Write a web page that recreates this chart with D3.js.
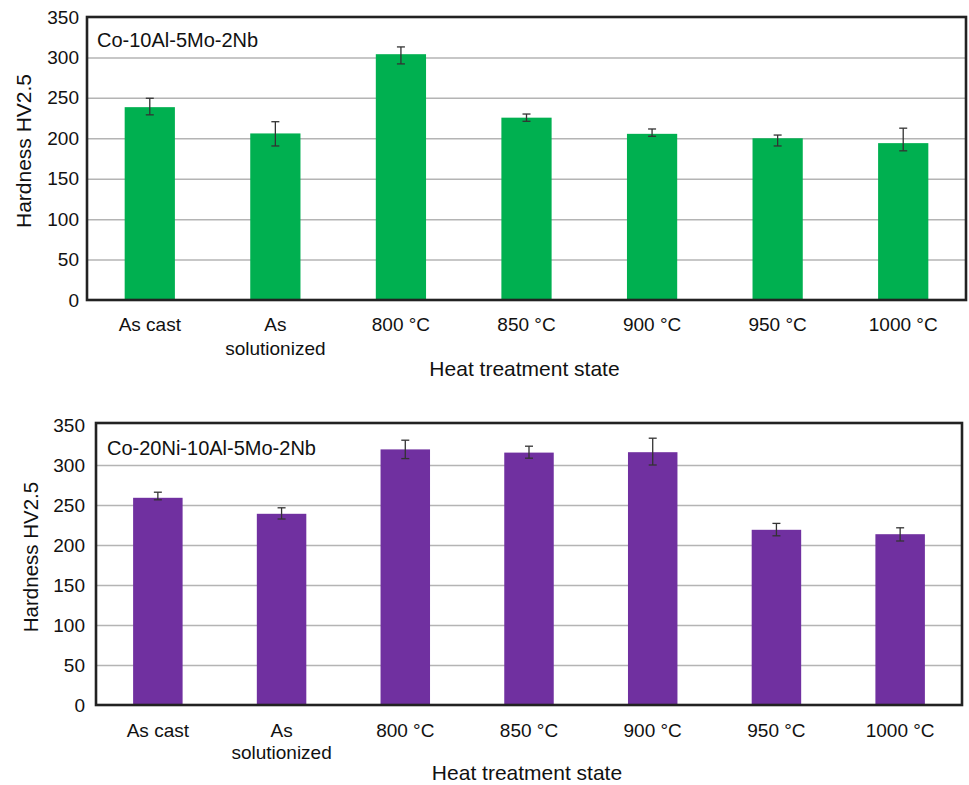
<!DOCTYPE html>
<html>
<head>
<meta charset="utf-8">
<script src="https://cdn.jsdelivr.net/npm/d3@7/dist/d3.min.js"></script>
<style>
  html, body { margin: 0; padding: 0; background: #fff; }
  svg { display: block; font-family: "Liberation Sans", Arial, Helvetica, sans-serif; }
</style>
</head>
<body>
<svg id="chart" width="969" height="785"></svg>
<script>
// Heat treatment states (x categories); a category may wrap onto two lines
const categories = ["As cast", "As solutionized", "800 °C", "850 °C", "900 °C", "950 °C", "1000 °C"];
const categoryLines = [["As cast"], ["As", "solutionized"], ["800 °C"], ["850 °C"], ["900 °C"], ["950 °C"], ["1000 °C"]];

// Y axis tick labels
const yTicks = [0, 50, 100, 150, 200, 250, 300, 350];
const gridTicks = [50, 100, 150, 200, 250, 300];

// Co-10Al-5Mo-2Nb: mean hardness and whisker ends (HV2.5)
const hardnessCo = [238.5, 206, 304, 225.5, 205.5, 200, 194];
const errHighCo  = [249.5, 220.5, 313, 230, 211.5, 204, 212.5];
const errLowCo   = [229, 190.5, 292, 221, 202.5, 190.5, 184.5];

// Co-20Ni-10Al-5Mo-2Nb: mean hardness and whisker ends (HV2.5)
const hardnessCoNi = [259, 239, 319.5, 315.5, 316, 219, 213.5];
const errHighCoNi  = [266, 246.5, 331, 323.5, 333.5, 227, 221.5];
const errLowCoNi   = [256.5, 232.5, 308, 308.5, 300, 211.5, 205];

const panels = [
  {
    label: "Co-10Al-5Mo-2Nb", color: "#00b050",
    values: hardnessCo, hi: errHighCo, lo: errLowCo,
    frame: { left: 87, top: 17, right: 966, bottom: 300 }, yTop: 17,
    tickPad: 8, labelPos: [97, 47], catBaseline: 331, lineGap: 24,
    xTitleY: 376, yTitle: { x: 31, y: 151, size: 21 }
  },
  {
    label: "Co-20Ni-10Al-5Mo-2Nb", color: "#7030a0",
    values: hardnessCoNi, hi: errHighCoNi, lo: errLowCoNi,
    frame: { left: 96, top: 423, right: 962, bottom: 705 }, yTop: 425,
    tickPad: 11, labelPos: [107, 455], catBaseline: 737, lineGap: 22,
    xTitleY: 780, yTitle: { x: 38, y: 557, size: 20.5 }
  }
];

const svg = d3.select("#chart");

panels.forEach(p => {
  const f = p.frame;
  const g = svg.append("g");

  const x = d3.scaleBand()
    .domain(categories)
    .range([f.left, f.right])
    .paddingInner(0.6)
    .paddingOuter(0.3);

  const y = d3.scaleLinear()
    .domain([0, 350])
    .range([f.bottom, p.yTop]);

  // horizontal gridlines
  const grid = g.append("g")
    .attr("transform", `translate(${f.left},0)`)
    .call(d3.axisLeft(y).tickValues(gridTicks).tickSize(-(f.right - f.left)).tickFormat(""));
  grid.select(".domain").remove();
  grid.selectAll(".tick line").attr("stroke", "#b4b4b4").attr("stroke-width", 1.5);

  // bars
  g.selectAll("rect.bar")
    .data(p.values)
    .join("rect")
    .attr("class", "bar")
    .attr("x", (d, i) => x(categories[i]))
    .attr("width", x.bandwidth())
    .attr("y", d => y(d))
    .attr("height", d => y(0) - y(d))
    .attr("fill", p.color);

  // error bars
  const eb = g.selectAll("g.err")
    .data(p.values.map((d, i) => ({ cat: categories[i], hi: p.hi[i], lo: p.lo[i] })))
    .join("g")
    .attr("class", "err")
    .attr("stroke", "#333")
    .attr("stroke-width", 1.3);
  const cx = d => x(d.cat) + x.bandwidth() / 2;
  eb.append("line").attr("x1", cx).attr("x2", cx).attr("y1", d => y(d.hi)).attr("y2", d => y(d.lo));
  eb.append("line").attr("x1", d => cx(d) - 4).attr("x2", d => cx(d) + 4).attr("y1", d => y(d.hi)).attr("y2", d => y(d.hi));
  eb.append("line").attr("x1", d => cx(d) - 4).attr("x2", d => cx(d) + 4).attr("y1", d => y(d.lo)).attr("y2", d => y(d.lo));

  // plot frame
  g.append("rect")
    .attr("x", f.left).attr("y", f.top)
    .attr("width", f.right - f.left).attr("height", f.bottom - f.top)
    .attr("fill", "none").attr("stroke", "#222").attr("stroke-width", 2.6);

  // y tick labels
  const yAxis = g.append("g")
    .attr("transform", `translate(${f.left},0)`)
    .call(d3.axisLeft(y).tickValues(yTicks).tickSize(0).tickPadding(p.tickPad));
  yAxis.select(".domain").remove();
  yAxis.selectAll("text")
    .attr("font-family", "Liberation Sans, Arial, sans-serif")
    .attr("font-size", 19).attr("fill", "#111");

  // category labels
  const cats = g.selectAll("text.cat")
    .data(categoryLines)
    .join("text")
    .attr("class", "cat")
    .attr("text-anchor", "middle")
    .attr("font-size", 19)
    .attr("fill", "#111");
  cats.each(function (lines, i) {
    const t = d3.select(this);
    const cxp = x(categories[i]) + x.bandwidth() / 2;
    lines.forEach((ln, k) => {
      t.append("tspan").attr("x", cxp).attr("y", p.catBaseline + k * p.lineGap).text(ln);
    });
  });

  // x axis title
  g.append("text")
    .attr("x", (f.left + f.right) / 2 - 2)
    .attr("y", p.xTitleY)
    .attr("text-anchor", "middle")
    .attr("font-size", 21).attr("fill", "#111")
    .text("Heat treatment state");

  // y axis title
  g.append("text")
    .attr("transform", `translate(${p.yTitle.x},${p.yTitle.y}) rotate(-90)`)
    .attr("text-anchor", "middle")
    .attr("font-size", p.yTitle.size).attr("fill", "#111")
    .text("Hardness HV2.5");

  // alloy label inside the frame
  g.append("text")
    .attr("x", p.labelPos[0]).attr("y", p.labelPos[1])
    .attr("font-size", 20).attr("fill", "#111")
    .text(p.label);
});
</script>
</body>
</html>
